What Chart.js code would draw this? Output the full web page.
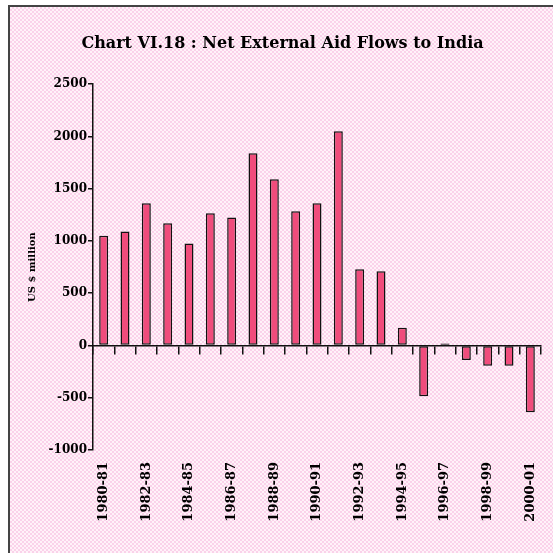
<!DOCTYPE html>
<html>
<head>
<meta charset="utf-8">
<script src="https://cdn.jsdelivr.net/npm/chart.js@4.4.1/dist/chart.umd.min.js"></script>
<style>
  html, body { margin: 0; padding: 0; width: 553px; height: 553px; overflow: hidden; background: #fff; }
  #frame {
    position: absolute; left: 8px; top: 5px; width: 600px; height: 600px;
    border-top: 2px solid #444; border-left: 2px solid #444;
    background-color: #fde6f4;
    background-image: repeating-conic-gradient(#fad2ea 0 25%, #fff2f9 0 50%);
    background-size: 4px 4px;
  }
  #chart { position: absolute; left: 0; top: 0; }
</style>
</head>
<body>
<div id="frame"></div>
<canvas id="chart" width="553" height="553"></canvas>
<script>
const years = ['1980-81', '1981-82', '1982-83', '1983-84', '1984-85', '1985-86', '1986-87',
  '1987-88', '1988-89', '1989-90', '1990-91', '1991-92', '1992-93', '1993-94',
  '1994-95', '1995-96', '1996-97', '1997-98', '1998-99', '1999-00', '2000-01'];
const netAid = [1050, 1090, 1360, 1170, 975, 1265, 1225, 1840, 1590, 1285, 1360,
  2050, 730, 710, 170, -485, 20, -140, -195, -195, -640];
const yTicks = [-1000, -500, 0, 500, 1000, 1500, 2000, 2500];

const serif = 'DejaVu Serif';

new Chart(document.getElementById('chart'), {
  type: 'bar',
  data: {
    labels: years,
    datasets: [{
      label: 'Net External Aid Flows',
      data: netAid,
      backgroundColor: '#f04c7c',
      borderColor: '#111',
      borderWidth: 1.5,
      borderSkipped: false,
      barPercentage: 0.42,
      categoryPercentage: 1
    }]
  },
  options: {
    responsive: false,
    animation: false,
    devicePixelRatio: 1,
    layout: { padding: { left: 24, right: 12, top: 5, bottom: 0 } },
    plugins: {
      legend: { display: false },
      tooltip: { enabled: false },
      title: {
        display: true,
        text: 'Chart VI.18 : Net External Aid Flows to India',
        color: '#000',
        font: { family: serif, size: 16, weight: 'bold' },
        padding: { top: 29, bottom: 31 }
      }
    },
    scales: {
      x: {
        offset: true,
        grid: { display: false },
        border: { display: false },
        ticks: {
          autoSkip: false,
          maxRotation: 90,
          minRotation: 90,
          padding: 4,
          color: '#000',
          font: { family: serif, size: 13, weight: 'bold' },
          callback: (v, i) => (i % 2 === 0 ? years[i] : '')
        },
        afterFit: s => { s.height = 103; }
      },
      xz: {
        type: 'category',
        labels: years,
        position: { y: 0 },
        offset: true,
        grid: { display: true, offset: true, drawOnChartArea: false, drawTicks: true, tickLength: 8, color: '#111', lineWidth: 1.5 },
        border: { display: true, color: '#111', width: 1.5 },
        ticks: { display: false }
      },
      y: {
        min: -1000,
        max: 2500,
        afterBuildTicks: s => { s.ticks = yTicks.map(v => ({ value: v })); },
        grid: { display: true, drawOnChartArea: false, drawTicks: true, tickLength: 5, color: '#111', lineWidth: 1.5 },
        border: { display: true, color: '#111', width: 1.5 },
        ticks: {
          color: '#000',
          padding: 1,
          font: { family: serif, size: 12, weight: 'bold' },
          callback: v => String(v)
        },
        title: {
          display: true,
          text: 'US $ million',
          color: '#000',
          padding: 2,
          font: { family: serif, size: 10, weight: 'bold' }
        },
        afterFit: s => { s.width = 69; }
      }
    }
  }
});
</script>
</body>
</html>
